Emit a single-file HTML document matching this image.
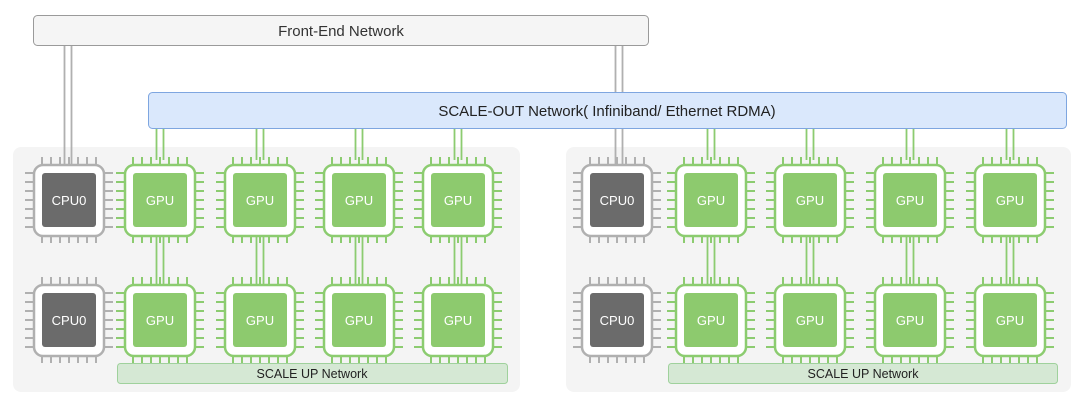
<!DOCTYPE html>
<html><head><meta charset="utf-8"><style>
html,body{margin:0;padding:0;background:#fff;width:1080px;height:404px;overflow:hidden}
svg{display:block}
text{font-family:"Liberation Sans",Arial,sans-serif}
</style></head><body>
<svg id="s" width="1080" height="404" viewBox="0 0 1080 404" xmlns="http://www.w3.org/2000/svg">
<rect x="13" y="147" width="507" height="245" rx="8" fill="#f4f4f4"/>
<rect x="566" y="147" width="505" height="245" rx="8" fill="#f4f4f4"/>
<g id="lines"></g>
<rect x="33.5" y="15.5" width="615" height="30" rx="4" fill="#f5f5f5" stroke="#9a9a9a"/>
<text x="341" y="36" font-size="15" text-anchor="middle" fill="#333">Front-End Network</text>
<rect x="148.5" y="92.5" width="918" height="36" rx="4" fill="#dae8fc" stroke="#7ea6e0"/>
<text x="607" y="116" font-size="15" text-anchor="middle" fill="#222">SCALE-OUT Network( Infiniband/ Ethernet RDMA)</text>
<g id="chips"></g>
<rect x="117.5" y="363.5" width="390" height="20" rx="3" fill="#d5e8d4" stroke="#9fd19c"/>
<text x="312" y="378" font-size="12.5" text-anchor="middle" fill="#222">SCALE UP Network</text>
<rect x="668.5" y="363.5" width="389" height="20" rx="3" fill="#d5e8d4" stroke="#9fd19c"/>
<text x="863" y="378" font-size="12.5" text-anchor="middle" fill="#222">SCALE UP Network</text>
<g font-size="13" text-anchor="middle" fill="#fff">
<text x="69" y="205">CPU0</text><text x="69" y="325">CPU0</text>
<text x="617" y="205">CPU0</text><text x="617" y="325">CPU0</text>
<text x="160" y="205">GPU</text><text x="260" y="205">GPU</text><text x="359" y="205">GPU</text><text x="458" y="205">GPU</text>
<text x="160" y="325">GPU</text><text x="260" y="325">GPU</text><text x="359" y="325">GPU</text><text x="458" y="325">GPU</text>
<text x="711" y="205">GPU</text><text x="810" y="205">GPU</text><text x="910" y="205">GPU</text><text x="1010" y="205">GPU</text>
<text x="711" y="325">GPU</text><text x="810" y="325">GPU</text><text x="910" y="325">GPU</text><text x="1010" y="325">GPU</text>
</g>
</svg>
<script>
var NS="http://www.w3.org/2000/svg";
function el(p,t,a){var e=document.createElementNS(NS,t);for(var k in a)e.setAttribute(k,a[k]);p.appendChild(e);return e;}
var chips=document.getElementById('chips'),lines=document.getElementById('lines');
function chip(cx,cy,gpu){
  var oc=gpu?'#8ccc70':'#b0b0b0', ic=gpu?'#8dca6e':'#6b6b6b';
  var g=el(chips,'g',{});
  for(var i=0;i<7;i++){var o=-27+i*9;
    el(g,'line',{x1:cx+o,y1:cy-43,x2:cx+o,y2:cy-35,stroke:oc,'stroke-width':2});
    el(g,'line',{x1:cx+o,y1:cy+35,x2:cx+o,y2:cy+43,stroke:oc,'stroke-width':2});
    el(g,'line',{x1:cx-44,y1:cy+o,x2:cx-35,y2:cy+o,stroke:oc,'stroke-width':2});
    el(g,'line',{x1:cx+35,y1:cy+o,x2:cx+44,y2:cy+o,stroke:oc,'stroke-width':2});
  }
  el(g,'rect',{x:cx-35,y:cy-35,width:70,height:71,rx:9,fill:'#fff',stroke:oc,'stroke-width':2.5});
  el(g,'rect',{x:cx-27,y:cy-27,width:54,height:54,rx:3,fill:ic});
}
function dl(x,y1,y2,c){el(lines,'line',{x1:x-3.5,y1:y1,x2:x-3.5,y2:y2,stroke:c,'stroke-width':1.8});el(lines,'line',{x1:x+3.5,y1:y1,x2:x+3.5,y2:y2,stroke:c,'stroke-width':1.8});}
var gL=[160,260,359,458],gR=[711,810,910,1010];
dl(68,45,166,'#b0b0b0');dl(619,45,166,'#b0b0b0');
gL.concat(gR).forEach(function(x){dl(x,128,160,'#8ccc70');dl(x,236,285,'#8ccc70');});
chip(69,200,false);chip(69,320,false);chip(617,200,false);chip(617,320,false);
gL.concat(gR).forEach(function(x){chip(x,200,true);chip(x,320,true);});
</script>
</body></html>
